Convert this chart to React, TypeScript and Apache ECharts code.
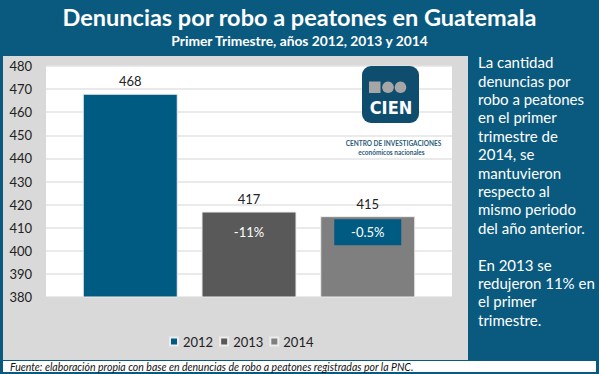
import React, { useEffect, useRef } from "react";
import * as echarts from "echarts";

const categories = ["Primer Trimestre"];
const years = ["2012", "2013", "2014"];
const values = [468, 417, 415];
const changeLabels = ["", "-11%", "-0.5%"];
const yMin = 380;
const yMax = 480;
const yInterval = 10;
const colors = ["#005B82", "#595959", "#7F7F7F"];

const titleText = "Denuncias por robo a peatones en Guatemala";
const subtitleText = "Primer Trimestre, años 2012, 2013 y 2014";
const sideLines = [
  "La cantidad",
  "denuncias por",
  "robo a peatones",
  "en el primer",
  "trimestre de",
  "2014, se",
  "mantuvieron",
  "respecto al",
  "mismo periodo",
  "del año anterior.",
  "",
  "En 2013 se",
  "redujeron 11% en",
  "el primer",
  "trimestre.",
];
const footnote =
  "Fuente: elaboración propia con base en denuncias de robo a peatones registradas por la PNC.";
const logoText = "CIEN";
const logoLine1 = "CENTRO DE INVESTIGACIONES";
const logoLine2 = "económicos nacionales";

const BLUE = "#0A5A80";
const FONT = "Lato, 'Open Sans', sans-serif";

export default function App() {
  const ref = useRef<HTMLDivElement>(null);
  useEffect(() => {
    document.body.style.margin = "0";
    const chart = echarts.init(ref.current!, null, { renderer: "svg" });
    const option: any = {
      animation: false,
      backgroundColor: BLUE,
      textStyle: { fontFamily: FONT },
      title: [
        {
          text: titleText,
          left: "center",
          top: 0,
          textStyle: { color: "#fff", fontSize: 23.5, fontWeight: "bold", fontFamily: FONT },
        },
        {
          text: subtitleText,
          left: "center",
          top: 28,
          textStyle: { color: "#fff", fontSize: 13.8, fontWeight: "bold", fontFamily: FONT },
        },
      ],
      grid: {
        left: 46,
        right: 147,
        top: 66,
        bottom: 77,
        show: true,
        backgroundColor: "#ffffff",
        borderWidth: 0,
      },
      legend: {
        left: 164,
        top: 330,
        itemWidth: 8,
        itemHeight: 8,
        itemGap: 6,
        icon: "rect",
        data: years,
        textStyle: { color: "#222", fontSize: 13, fontFamily: FONT },
      },
      xAxis: {
        type: "category",
        data: categories,
        axisLabel: { show: false },
        axisTick: { show: false },
        axisLine: { show: true, lineStyle: { color: "#D9D9D9" } },
      },
      yAxis: {
        type: "value",
        min: yMin,
        max: yMax,
        interval: yInterval,
        axisLine: { show: false },
        axisTick: { show: false },
        axisLabel: { color: "#222", fontSize: 13, margin: 14, fontFamily: FONT },
        splitLine: { lineStyle: { color: "#E3E3E3", width: 1.5 } },
      },
      series: years.map((y, i) => ({
        type: "bar",
        name: y,
        data: [values[i]],
        barWidth: 95,
        barGap: "25%",
        itemStyle: { color: colors[i], borderColor: "#EDEDED", borderWidth: 1 },
        label: {
          show: true,
          position: "top",
          distance: 6,
          color: "#222",
          fontSize: 13,
          fontFamily: FONT,
        },
        markPoint: changeLabels[i]
          ? {
              silent: true,
              symbol: "rect",
              symbolSize: i === 2 ? [67, 26] : [1, 1],
              symbolOffset: [0, i === 2 ? 16 : 20],
              itemStyle: { color: i === 2 ? colors[0] : "rgba(0,0,0,0)" },
              label: {
                show: true,
                position: "inside",
                color: "#fff",
                fontSize: 13,
                fontFamily: FONT,
                formatter: changeLabels[i],
              },
              data: [{ coord: [0, values[i]], value: changeLabels[i] }],
            }
          : undefined,
      })),
      graphic: [
        {
          type: "rect",
          z: -1,
          silent: true,
          shape: { x: 3, y: 56, width: 465, height: 304 },
          style: { fill: "#D9D9D9" },
        },
        {
          type: "rect",
          z: -1,
          silent: true,
          shape: { x: 3, y: 361, width: 593, height: 11 },
          style: { fill: "#ffffff" },
        },
        {
          type: "text",
          z: 5,
          silent: true,
          style: {
            x: 10,
            y: 366.5,
            text: footnote,
            fill: "#111",
            font: "italic 10.5px " + FONT,
            textVerticalAlign: "middle",
          },
        },
        {
          type: "text",
          z: 5,
          silent: true,
          style: {
            x: 478,
            y: 53,
            text: sideLines.join("\n"),
            fill: "#fff",
            font: "15px " + FONT,
            lineHeight: 18.4,
          },
        },
        {
          type: "group",
          x: 362,
          y: 66,
          z: 5,
          silent: true,
          children: [
            {
              type: "rect",
              z: 5,
              shape: { x: 0, y: 0, width: 57, height: 57, r: 9 },
              style: { fill: "#0F4D6E" },
            },
            {
              type: "rect",
              z: 6,
              shape: { x: 7, y: 15.5, width: 11.5, height: 11.5 },
              style: { fill: "#A6A6A6" },
            },
            {
              type: "circle",
              z: 6,
              shape: { cx: 26, cy: 21.3, r: 5.8 },
              style: { fill: "#A6A6A6" },
            },
            {
              type: "circle",
              z: 6,
              shape: { cx: 38.5, cy: 21.3, r: 5.8 },
              style: { fill: "#A6A6A6" },
            },
            {
              type: "text",
              z: 6,
              style: {
                x: 29,
                y: 41,
                text: logoText,
                fill: "#fff",
                font: "bold 18px 'DejaVu Sans Condensed', 'DejaVu Sans', sans-serif",
                textAlign: "center",
                textVerticalAlign: "middle",
              },
            },
          ],
        },
        {
          type: "text",
          z: 5,
          silent: true,
          style: {
            x: 393.5,
            y: 143,
            text: logoLine1,
            fill: "#2B5C7C",
            font: "bold 6.5px " + FONT,
            textAlign: "center",
            textVerticalAlign: "middle",
          },
        },
        {
          type: "text",
          z: 5,
          silent: true,
          style: {
            x: 391.5,
            y: 152.5,
            text: logoLine2,
            fill: "#2B5C7C",
            font: "bold 6.5px " + FONT,
            textAlign: "center",
            textVerticalAlign: "middle",
          },
        },
      ],
    };
    chart.setOption(option);
    return () => chart.dispose();
  }, []);
  return <div ref={ref} style={{ width: 599, height: 374 }} />;
}
